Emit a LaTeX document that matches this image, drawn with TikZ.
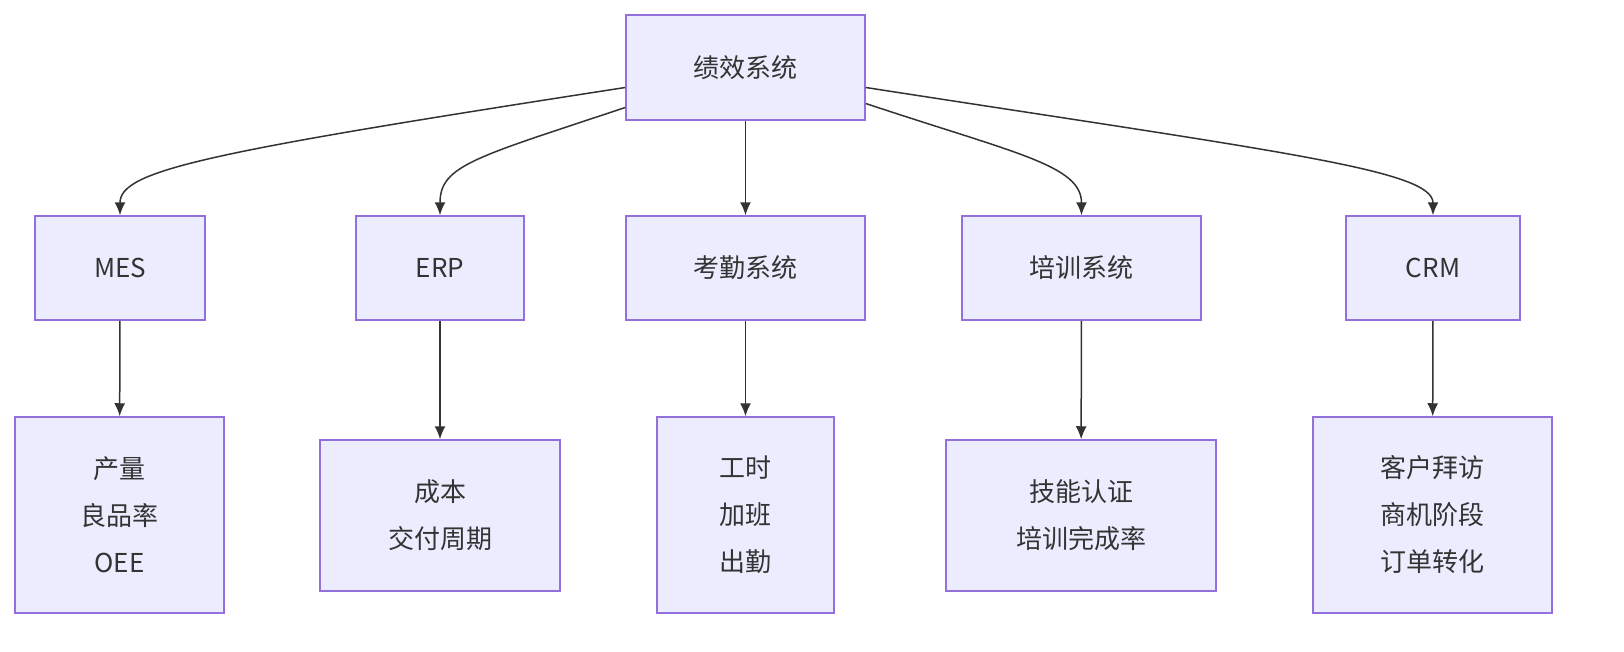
\documentclass[tikz,border=0pt]{standalone}
\usepackage{fontspec}
\setmainfont{Noto Sans CJK SC}
\usetikzlibrary{arrows.meta}
\definecolor{nfill}{HTML}{ECECFF}
\definecolor{nline}{HTML}{9370DB}
\definecolor{aline}{HTML}{333333}
\begin{document}
\begin{tikzpicture}[x=1bp,y=-1bp,
  box/.style={draw=nline,fill=nfill,line width=1.5bp,align=center,inner sep=0pt,
    font=\fontsize{26bp}{47bp}\selectfont,text=aline},
  arr/.style={draw=aline,line width=1.5bp,-{Latex[length=13bp,width=11bp]}}]
\path[use as bounding box] (0,0) rectangle (1624,652);
\node[box,minimum width=239bp,minimum height=105bp] (top) at (745.5,67.5) {绩效系统};
\node[box,minimum width=170bp,minimum height=104bp] (mes) at (120,268) {MES};
\node[box,minimum width=168bp,minimum height=104bp] (erp) at (440,268) {ERP};
\node[box,minimum width=239bp,minimum height=104bp] (kq) at (745.5,268) {考勤系统};
\node[box,minimum width=239bp,minimum height=104bp] (px) at (1081.5,268) {培训系统};
\node[box,minimum width=174bp,minimum height=104bp] (crm) at (1433,268) {CRM};
\node[box,minimum width=209bp,minimum height=196bp] (m2) at (119.5,515) {产量\\良品率\\OEE};
\node[box,minimum width=240bp,minimum height=151bp] (e2) at (440,515.5) {成本\\交付周期};
\node[box,minimum width=177bp,minimum height=196bp] (k2) at (745.5,515) {工时\\加班\\出勤};
\node[box,minimum width=270bp,minimum height=151bp] (p2) at (1081,515.5) {技能认证\\培训完成率};
\node[box,minimum width=239bp,minimum height=196bp] (c2) at (1432.5,515) {客户拜访\\商机阶段\\订单转化};
\draw[arr] ([yshift=-20bp]top.west) .. controls +(-420,65) and +(0,-45) .. (mes.north);
\draw[arr] ([yshift=-40bp]top.west) .. controls +(-150,50) and +(0,-50) .. (erp.north);
\draw[arr] (top.south) -- (kq.north);
\draw[arr] ([yshift=-36bp]top.east) .. controls +(150,50) and +(0,-50) .. (px.north);
\draw[arr] ([yshift=-20bp]top.east) .. controls +(420,65) and +(0,-45) .. (crm.north);
\draw[arr] (mes) -- (m2);
\draw[arr] (erp) -- (e2);
\draw[arr] (kq) -- (k2);
\draw[arr] (px) -- (p2);
\draw[arr] (crm) -- (c2);
\end{tikzpicture}
\end{document}
